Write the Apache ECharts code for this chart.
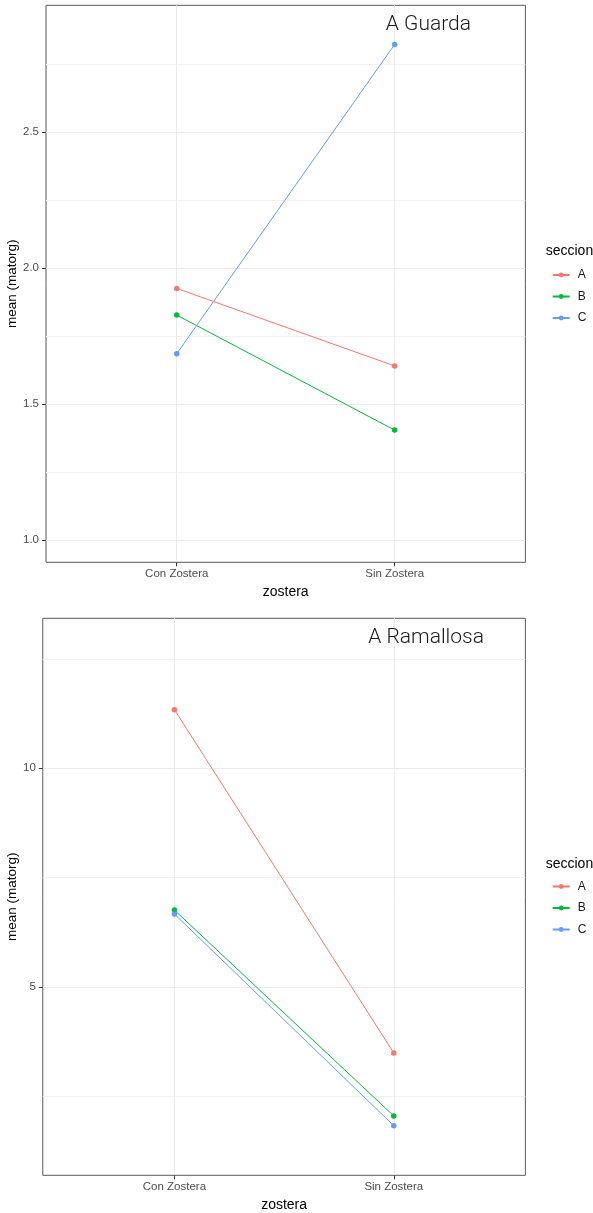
<!DOCTYPE html>
<html>
<head>
<meta charset="utf-8">
<script src="https://cdn.jsdelivr.net/npm/echarts@6/dist/echarts.min.js"></script>
<style>
  html, body { margin: 0; padding: 0; background: #ffffff; }
  #chart { width: 593px; height: 1213px; }
</style>
</head>
<body>
<div id="chart"></div>
<script>
// Mean organic matter (matorg) by zostera presence, one panel per site
const sites = ['A Guarda', 'A Ramallosa'];
const categories = ['Con Zostera', 'Sin Zostera'];
const seccionNames = ['A', 'B', 'C'];
const seccionColors = ['#F8766D', '#00BA38', '#619CFF'];

// A Guarda means, in category order
const guardaA = [1.926, 1.641];
const guardaB = [1.828, 1.405];
const guardaC = [1.686, 2.823];

// A Ramallosa means, in category order
const ramallosaA = [11.34, 3.494];
const ramallosaB = [6.76, 2.055];
const ramallosaC = [6.67, 1.833];

// y axis breaks
const guardaTicks = [1.0, 1.5, 2.0, 2.5];
const guardaMinor = [1.25, 1.75, 2.25, 2.75];
const ramallosaTicks = [5, 10];
const ramallosaMinor = [2.5, 7.5, 12.5];

// y ranges of each panel
const guardaRange = [0.919, 2.967];
const ramallosaRange = [0.699, 13.428];

const FONT = '"Liberation Sans", Arial, sans-serif';
const panels = [
  { top: 5.3, left: 46, values: [guardaA, guardaB, guardaC], ticks: guardaTicks, minor: guardaMinor,
    range: guardaRange, fmt: v => v.toFixed(1), titleRight: 117, titleTop: 9, legendTop: 264, legendTitleY: 252 },
  { top: 618.3, left: 42.8, values: [ramallosaA, ramallosaB, ramallosaC], ticks: ramallosaTicks, minor: ramallosaMinor,
    range: ramallosaRange, fmt: v => String(v), titleRight: 104, titleTop: 622, legendTop: 875.5, legendTitleY: 865 }
];
const PANEL_H = 557;
const RIGHT = 593 - 525.4;

const grid = [], xAxis = [], yAxis = [], series = [], legend = [], title = [], graphic = [];

panels.forEach((p, gi) => {
  grid.push({
    left: p.left, right: RIGHT, top: p.top, height: PANEL_H,
    outerBoundsMode: 'none',
    show: true, borderColor: '#595959', borderWidth: 1, backgroundColor: '#ffffff'
  });

  xAxis.push({
    type: 'value', gridIndex: gi, min: 0.4, max: 2.6,
    name: 'zostera', nameLocation: 'middle', nameGap: 23,
    nameTextStyle: { fontFamily: FONT, fontSize: 14, color: '#000000' },
    axisLine: { show: false },
    axisTick: { show: true, length: 4, lineStyle: { color: '#333333' }, customValues: [1, 2] },
    axisLabel: { customValues: [1, 2], margin: 6, fontFamily: FONT, fontSize: 11.5, color: '#4d4d4d',
      formatter: v => categories[Math.round(v) - 1] },
    splitLine: { show: true, lineStyle: { color: '#ebebeb', width: 1 } }
  });

  // major breaks with labels
  yAxis.push({
    type: 'value', gridIndex: gi, min: p.range[0], max: p.range[1],
    axisLine: { show: false },
    axisTick: { show: true, length: 4, lineStyle: { color: '#333333' }, customValues: p.ticks },
    axisLabel: { customValues: p.ticks, margin: 7, fontFamily: FONT, fontSize: 11.5, color: '#4d4d4d',
      formatter: p.fmt },
    splitLine: { show: true, lineStyle: { color: '#ebebeb', width: 1 } }
  });
  // minor breaks (grid lines only)
  yAxis.push({
    type: 'value', gridIndex: gi, min: p.range[0], max: p.range[1], position: 'left',
    axisLine: { show: false },
    axisTick: { show: false, customValues: p.minor },
    axisLabel: { show: false },
    splitLine: { show: true, lineStyle: { color: '#f1f1f1', width: 1 } }
  });

  p.values.forEach((vals, si) => {
    series.push({
      type: 'line', name: seccionNames[si], xAxisIndex: gi, yAxisIndex: gi * 2,
      data: vals.map((v, ci) => [ci + 1, v]),
      symbol: 'circle', symbolSize: 5.5, showSymbol: true,
      color: seccionColors[si],
      lineStyle: { width: 1, color: seccionColors[si] },
      itemStyle: { color: seccionColors[si] },
      emphasis: { disabled: true },
      animation: false, z: 3 + si
    });
  });

  title.push({
    text: sites[gi], right: p.titleRight, top: p.titleTop,
    textStyle: { fontFamily: 'Roboto', fontWeight: 300, fontSize: 21, color: '#1a1a1a' }
  });

  legend.push({
    data: seccionNames, orient: 'vertical', left: 546.7, top: p.legendTop,
    itemWidth: 17, itemHeight: 6, itemGap: 9.5,
    selectedMode: false,
    textStyle: { fontFamily: FONT, fontSize: 12, color: '#1a1a1a', padding: [0, 0, 0, 3] }
  });

  graphic.push({
    type: 'text', left: 545.7, top: p.legendTitleY - 8,
    style: { text: 'seccion', fontFamily: FONT, fontSize: 14, fill: '#000000' }
  });
  graphic.push({
    type: 'text', x: 12, y: p.top + PANEL_H / 2, rotation: Math.PI / 2,
    style: { text: 'mean (matorg)', fontFamily: FONT, fontSize: 13.5, fill: '#000000',
      align: 'center', verticalAlign: 'middle' }
  });
});

const chart = echarts.init(document.getElementById('chart'), null, { renderer: 'canvas' });
chart.setOption({
  backgroundColor: '#ffffff',
  animation: false,
  title, grid, xAxis, yAxis, series, legend, graphic
});
</script>
</body>
</html>
